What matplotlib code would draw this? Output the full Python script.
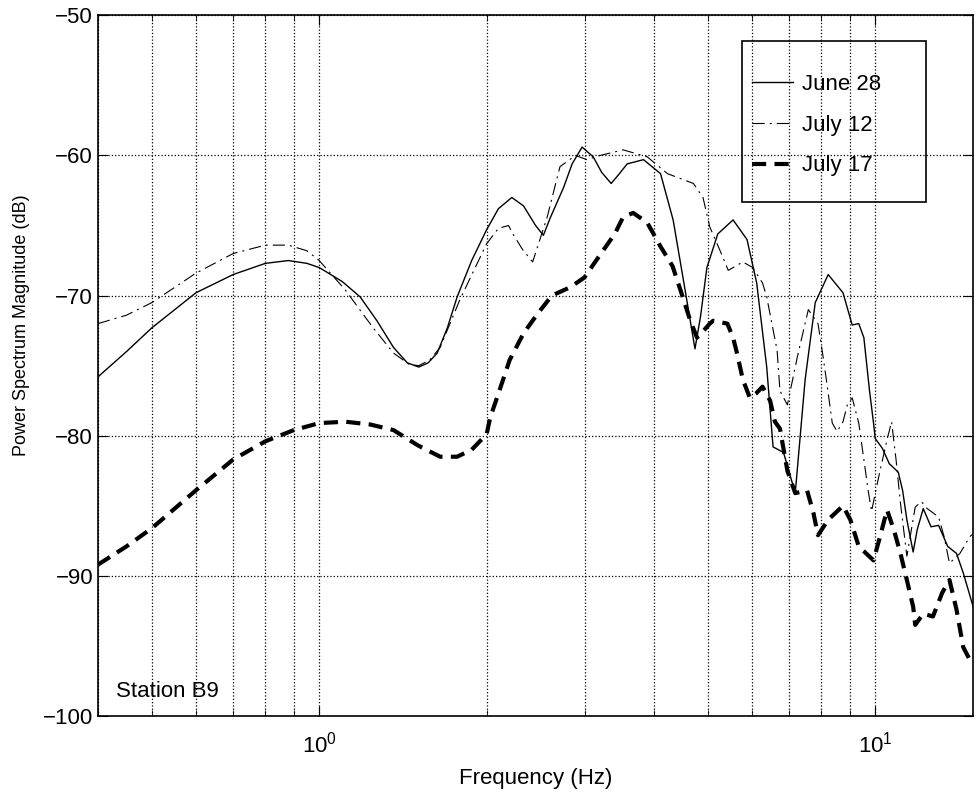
import numpy as np
import matplotlib
matplotlib.use('Agg')
from matplotlib import pyplot as plt
from matplotlib.patches import Rectangle
from matplotlib.ticker import LogLocator, NullFormatter, MultipleLocator

plt.rcParams['font.family'] = ['Liberation Sans', 'DejaVu Sans']
plt.rcParams['font.size'] = 16

# -----------------------------
# 数据
# -----------------------------
june28_f = [0.40, 0.45, 0.50, 0.60, 0.70, 0.80, 0.88, 0.95, 1.00, 1.10, 1.185, 1.27, 1.36, 1.44,
            1.51, 1.57, 1.63, 1.70, 1.77, 1.88, 2.00, 2.10, 2.22, 2.33, 2.45, 2.53, 2.60, 2.75,
            2.85, 2.97, 3.11, 3.22, 3.35, 3.45, 3.58, 3.83, 4.11, 4.33, 4.55, 4.74, 4.85, 4.98,
            5.21, 5.55, 5.88, 6.12, 6.38, 6.55, 6.84, 7.18, 7.48, 7.80, 8.23, 8.75, 9.09, 9.34,
            9.54, 9.76, 9.93, 10.0, 10.3, 10.6, 11.0, 11.2, 11.4, 11.7, 11.9, 12.2, 12.6, 13.0,
            13.5, 14.0, 14.4, 15.0]
june28_db = [-75.8, -74.0, -72.3, -69.8, -68.5, -67.7, -67.5, -67.7, -68.0, -69.0, -70.1, -71.8,
             -73.7, -74.8, -75.1, -74.8, -74.1, -72.3, -70.1, -67.5, -65.3, -63.8, -63.0, -63.6,
             -65.0, -65.7, -64.5, -62.3, -60.6, -59.4, -60.1, -61.2, -62.0, -61.4, -60.6, -60.3,
             -61.3, -64.6, -69.6, -73.8, -71.5, -68.0, -65.6, -64.6, -66.0, -69.1, -75.1, -80.8,
             -81.2, -84.1, -76.0, -70.5, -68.5, -69.8, -72.1, -72.0, -73.0, -76.7, -79.1, -80.2,
             -80.9, -82.0, -82.6, -83.9, -86.0, -88.3, -86.7, -85.2, -86.5, -86.4, -87.9, -88.4,
             -89.8, -92.2]

july12_f = [0.40, 0.45, 0.50, 0.60, 0.70, 0.80, 0.88, 0.95, 1.00, 1.114, 1.25, 1.36, 1.45, 1.51,
            1.58, 1.65, 1.79, 2.00, 2.10, 2.19, 2.23, 2.32, 2.42, 2.57, 2.71, 2.89, 3.03, 3.20,
            3.52, 3.89, 4.23, 4.71, 4.90, 5.04, 5.26, 5.44, 5.78, 6.02, 6.27, 6.38, 6.66, 6.74,
            6.95, 7.24, 7.58, 7.89, 8.06, 8.20, 8.37, 8.54, 8.75, 8.91, 9.09, 9.34, 9.54, 9.71,
            9.85, 10.0, 10.2, 10.5, 10.7, 10.9, 11.1, 11.4, 11.8, 12.1, 12.4, 12.7, 13.0, 13.3,
            13.6, 14.2, 14.8, 15.0]
july12_db = [-72.0, -71.4, -70.5, -68.4, -67.0, -66.4, -66.4, -66.8, -67.5, -69.6, -72.3, -74.1,
             -74.9, -75.0, -74.6, -73.7, -70.3, -66.3, -65.2, -65.0, -65.6, -66.7, -67.6, -64.4,
             -60.8, -60.0, -60.3, -60.0, -59.6, -60.1, -61.3, -62.0, -63.0, -65.1, -66.8, -68.2,
             -67.6, -68.0, -69.1, -70.1, -73.9, -76.8, -77.8, -74.4, -71.0, -72.0, -74.4, -76.5,
             -79.1, -79.7, -79.0, -77.8, -77.3, -79.1, -81.7, -83.9, -85.4, -84.1, -82.5, -80.3,
             -79.0, -81.7, -84.8, -88.6, -85.1, -84.7, -85.2, -85.5, -85.8, -87.2, -89.1, -88.4,
             -87.2, -87.0]

july17_f = [0.40, 0.45, 0.50, 0.60, 0.70, 0.80, 0.90, 1.00, 1.114, 1.235, 1.36, 1.506, 1.65,
            1.77, 1.88, 2.00, 2.03, 2.10, 2.20, 2.33, 2.47, 2.62, 2.83, 3.00, 3.16, 3.40, 3.52,
            3.67, 3.89, 4.11, 4.32, 4.48, 4.65, 4.78, 4.84, 5.04, 5.11, 5.42, 5.55, 5.64, 5.78,
            5.95, 6.10, 6.27, 6.47, 6.60, 6.74, 6.95, 7.18, 7.54, 7.74, 7.89, 8.23, 8.75, 9.02,
            9.34, 9.93, 10.2, 10.5, 10.8, 11.1, 11.4, 11.7, 11.8, 12.2, 12.7, 13.2, 13.6, 14.0,
            14.4, 14.8, 15.0]
july17_db = [-89.2, -87.9, -86.6, -83.9, -81.7, -80.4, -79.6, -79.1, -79.0, -79.2, -79.6, -80.7,
             -81.5, -81.5, -81.0, -79.9, -78.7, -77.0, -74.6, -72.7, -71.3, -70.0, -69.4, -68.7,
             -67.4, -65.6, -64.4, -64.1, -64.8, -66.5, -67.9, -69.8, -71.8, -73.0, -72.8, -72.0,
             -71.8, -72.0, -73.0, -74.1, -76.0, -77.3, -77.0, -76.5, -77.5, -79.0, -79.5, -82.5,
             -84.1, -83.9, -85.5, -87.1, -86.0, -85.0, -86.0, -87.9, -88.9, -87.2, -85.3, -86.7,
             -88.4, -90.3, -92.2, -93.5, -92.7, -92.9, -91.2, -90.3, -92.4, -95.1, -96.0, -96.2]

labels = ['June 28', 'July 12', 'July 17']

# -----------------------------
# 绘图
# -----------------------------
fig = plt.figure(figsize=(9.8, 7.98), dpi=100)
ax = fig.add_axes([0.1, 0.1028, 0.893, 0.878])

ax.plot(june28_f, june28_db, color='k', lw=1.0, label=labels[0])
ax.plot(july12_f, july12_db, color='k', lw=0.8, linestyle=(0, (11, 4.5, 1.8, 4.5)), label=labels[1])
ax.plot(july17_f, july17_db, color='k', lw=3.0, linestyle=(0, (3.4, 2.0)), label=labels[2])

ax.set_xscale('log')
ax.set_xlim(0.4, 15)
ax.set_ylim(-100, -50)
ax.yaxis.set_major_locator(MultipleLocator(10))
ax.xaxis.set_minor_locator(LogLocator(base=10, subs=np.arange(2, 10)))
ax.xaxis.set_minor_formatter(NullFormatter())

ax.grid(True, which='major', linestyle=':', color='k', lw=0.9)
ax.grid(True, which='minor', axis='x', linestyle=':', color='k', lw=0.9)
ax.tick_params(which='both', direction='in', top=True, right=True)
ax.tick_params(which='major', length=7)
ax.tick_params(which='minor', length=4)
ax.tick_params(axis='x', which='major', pad=11)
for s in ax.spines.values():
    s.set_linewidth(1.2)

ax.set_xlabel('Frequency (Hz)', labelpad=8)
ax.set_ylabel('Power Spectrum Magnitude (dB)', fontsize=13)
ax.yaxis.set_label_coords(-0.078, 0.558)
ax.text(0.02, 0.035, 'Station B9', transform=ax.transAxes, ha='left', va='center')

# 图例：透明框 + 手动边框
leg = ax.legend(loc='upper left', bbox_to_anchor=(0.747, 0.916), borderaxespad=0,
                frameon=False, borderpad=0, labelspacing=0.88,
                handlelength=1.85, handletextpad=0.4)
ax.add_patch(Rectangle((0.736, 0.733), 0.21, 0.231, transform=ax.transAxes,
                       fill=False, edgecolor='k', lw=1.2, zorder=5))

plt.savefig('out.png', dpi=100)
